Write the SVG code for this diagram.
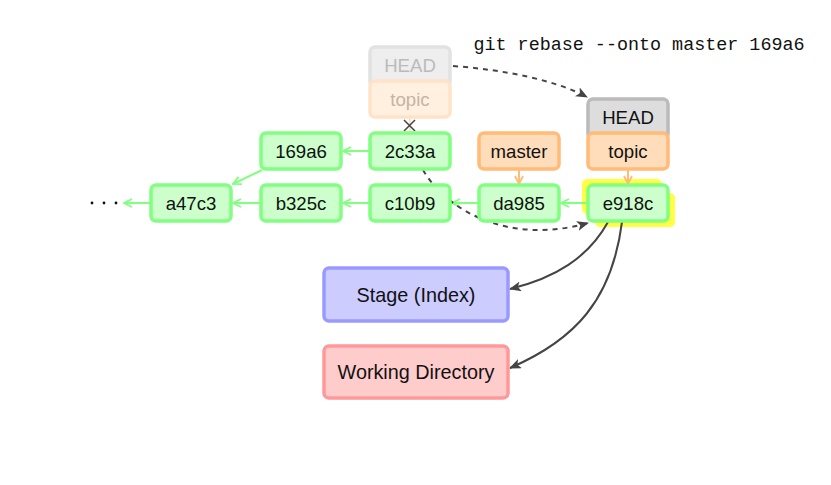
<svg xmlns="http://www.w3.org/2000/svg" width="831" height="485" viewBox="0 0 831 485">
<defs>
<style>
text{font-family:"Liberation Sans",Arial,sans-serif;font-size:18.6px;text-anchor:middle;dominant-baseline:central;fill:#111}
.commit rect{fill:#ccffcc;stroke:#80ff80;stroke-width:3.5}
.ref rect{fill:#ffddbb;stroke:#ffbb77;stroke-width:3.5}
.head rect{fill:#dddddd;stroke:#bbbbbb;stroke-width:3.5}
.ghead rect{fill:#eeeeee;stroke:#e2e2e2;stroke-width:3.5}
.ghead text{fill:#bbbbbb}
.gref rect{fill:#fff0e0;stroke:#ffe2c8;stroke-width:3.5}
.gref text{fill:#c4b4a4}
.big{font-size:19.8px}
.g{stroke:#80ff80;stroke-width:2;fill:none}
.o{stroke:#ffbb77;stroke-width:2;fill:none}
.d{stroke:#444;stroke-width:2;fill:none}
.dash{stroke-dasharray:5,5}
.hl{fill:#ffff44}
</style>
<marker id="ag" viewBox="0 0 10 10" refX="9" refY="5" markerWidth="10" markerHeight="10" markerUnits="userSpaceOnUse" orient="auto">
<path d="M1,1 L9,5 L1,9" fill="none" stroke="#80ff80" stroke-width="1.8"/>
</marker>
<marker id="ao" viewBox="0 0 10 10" refX="9" refY="5" markerWidth="10" markerHeight="10" markerUnits="userSpaceOnUse" orient="auto">
<path d="M1,1 L9,5 L1,9" fill="none" stroke="#ffbb77" stroke-width="1.8"/>
</marker>
<marker id="ad" viewBox="0 0 12 10" refX="11" refY="5" markerWidth="12" markerHeight="10" markerUnits="userSpaceOnUse" orient="auto">
<path d="M0,0 L12,5 L0,10 L3,5 Z" fill="#444"/>
</marker>
</defs>
<rect width="831" height="485" fill="#fff"/>

<text x="639" y="45" style="font-family:'Liberation Mono','Courier New',monospace;font-size:18.4px">git rebase --onto master 169a6</text>
<g id="dots" fill="#111"><circle cx="92" cy="203" r="1.4"/><circle cx="104" cy="203" r="1.4"/><circle cx="116" cy="203" r="1.4"/></g>

<g id="highlight">
<rect class="hl" x="582" y="179" width="80" height="35" rx="5"/>
<rect class="hl" x="595" y="193" width="80" height="34" rx="5"/>
</g>

<g id="connectors">
<path class="g" d="M370,151 L343,151" marker-end="url(#ag)"/>
<path class="g" d="M262,170 L233,184" marker-end="url(#ag)"/>
<path class="g" d="M151,203 L124,203" marker-end="url(#ag)"/>
<path class="g" d="M261,203 L233,203" marker-end="url(#ag)"/>
<path class="g" d="M370,203 L343,203" marker-end="url(#ag)"/>
<path class="g" d="M479,203 L452,203" marker-end="url(#ag)"/>
<path class="g" d="M588,203 L561,203" marker-end="url(#ag)"/>
<path class="o" d="M519,169 L519,184" marker-end="url(#ao)"/>
<path class="o" d="M628,169 L628,184" marker-end="url(#ao)"/>
<path d="M410,118 L410,133" stroke="#ffe2c8" stroke-width="2"/>
<path d="M404,120 L415,131 M415,120 L404,131" stroke="#444" stroke-width="1.5"/>
<path class="d dash" d="M453,66 C 505,70 555,80 587,97" marker-end="url(#ad)"/>
<path class="d dash" d="M423,170 C 448,212 510,245 588,223" marker-end="url(#ad)"/>
<path class="d" d="M608,222 C 588,258 555,278 510,289" marker-end="url(#ad)"/>
<path class="d" d="M622,222 C 612,300 575,340 510,368" marker-end="url(#ad)"/>
</g>

<g id="old-head" class="ghead"><rect x="370" y="47" width="80" height="40" rx="5"/><text x="410" y="65">HEAD</text></g>
<g id="old-topic" class="gref"><rect x="370" y="81" width="80" height="36" rx="5"/><text x="410" y="99">topic</text></g>

<g id="head" class="head"><rect x="588" y="99" width="80" height="40" rx="5"/><text x="628" y="117">HEAD</text></g>
<g id="topic" class="ref"><rect x="588" y="133" width="80" height="36" rx="5"/><text x="628" y="151">topic</text></g>
<g id="master" class="ref"><rect x="479" y="133" width="80" height="36" rx="5"/><text x="519" y="151">master</text></g>

<g id="c169a6" class="commit"><rect x="261" y="133" width="80" height="36" rx="5"/><text x="301" y="151">169a6</text></g>
<g id="c2c33a" class="commit"><rect x="370" y="133" width="80" height="36" rx="5"/><text x="410" y="151">2c33a</text></g>
<g id="ca47c3" class="commit"><rect x="151" y="185" width="80" height="36" rx="5"/><text x="191" y="203">a47c3</text></g>
<g id="cb325c" class="commit"><rect x="261" y="185" width="80" height="36" rx="5"/><text x="301" y="203">b325c</text></g>
<g id="cc10b9" class="commit"><rect x="370" y="185" width="80" height="36" rx="5"/><text x="410" y="203">c10b9</text></g>
<g id="cda985" class="commit"><rect x="479" y="185" width="80" height="36" rx="5"/><text x="519" y="203">da985</text></g>
<g id="ce918c" class="commit"><rect x="588" y="185" width="80" height="36" rx="5"/><text x="628" y="203">e918c</text></g>

<g id="stage"><rect x="324" y="268" width="184" height="53" rx="5" fill="#ccccff" stroke="#9999ff" stroke-width="3.5"/><text class="big" x="416" y="294.5">Stage (Index)</text></g>
<g id="workdir"><rect x="324" y="346" width="184" height="52" rx="5" fill="#ffcccc" stroke="#ff9999" stroke-width="3.5"/><text class="big" x="416" y="372">Working Directory</text></g>
</svg>
